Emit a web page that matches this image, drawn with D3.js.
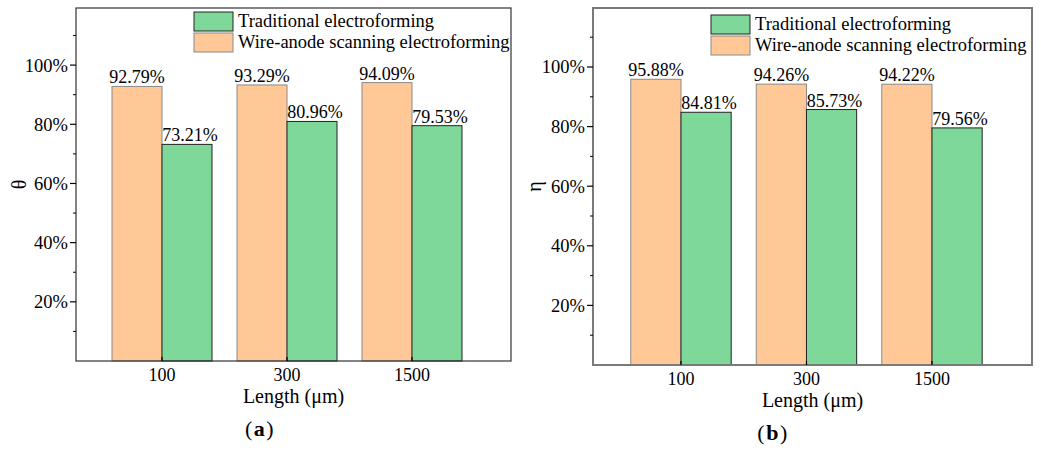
<!DOCTYPE html>
<html>
<head>
<meta charset="utf-8">
<script src="https://cdn.jsdelivr.net/npm/d3@7"></script>
<style>
  body { margin: 0; background: #fff; }
  svg { display: block; }
  text { font-family: "Liberation Serif", "Times New Roman", serif; fill: #000; }
</style>
</head>
<body>
<div id="chart"></div>
<script>
// Data
const categories = ["100", "300", "1500"];
const seriesNames = ["Traditional electroforming", "Wire-anode scanning electroforming"];
const thetaTraditional = [0.7321, 0.8096, 0.7953];
const thetaWire = [0.9279, 0.9329, 0.9409];
const etaTraditional = [0.8481, 0.8573, 0.7956];
const etaWire = [0.9588, 0.9426, 0.9422];
const yTicks = [0.2, 0.4, 0.6, 0.8, 1.0];
const yMinorTicks = [0.1, 0.3, 0.5, 0.7, 0.9, 1.1];

const orange = "#ffc896";
const green = "#7dd899";

const svg = d3.select("#chart")
    .append("svg")
    .attr("width", 1041)
    .attr("height", 450);

// one panel of the figure
function drawPanel(p) {
    const g = svg.append("g");

    const x = d3.scaleLinear().domain(p.xDomain).range([p.left, p.right]);
    const y = d3.scaleLinear().domain([0, p.yMax]).range([p.bottom, p.top]);
    const barW = x(1.4) - x(1);

    // bars: wire-anode (orange) on the left, traditional (green) on the right
    g.selectAll(".wire")
        .data(p.wire)
        .enter()
        .append("rect")
        .attr("x", (d, i) => x(i + 1) - barW)
        .attr("y", d => y(d))
        .attr("width", barW)
        .attr("height", d => y(0) - y(d))
        .attr("fill", orange)
        .attr("stroke", "#8a8a8a")
        .attr("stroke-width", 1);

    g.selectAll(".trad")
        .data(p.trad)
        .enter()
        .append("rect")
        .attr("x", (d, i) => x(i + 1))
        .attr("y", d => y(d))
        .attr("width", barW)
        .attr("height", d => y(0) - y(d))
        .attr("fill", green)
        .attr("stroke", "#222")
        .attr("stroke-width", 1);

    // value labels
    const fmt = d => (d * 100).toFixed(2) + "%";
    g.selectAll(".wlab")
        .data(p.wire)
        .enter()
        .append("text")
        .attr("x", (d, i) => x(i + 1) - barW / 2)
        .attr("y", d => y(d) - 3)
        .attr("text-anchor", "middle")
        .style("font-size", "18px")
        .text(fmt);

    g.selectAll(".tlab")
        .data(p.trad)
        .enter()
        .append("text")
        .attr("x", (d, i) => x(i + 1) + barW / 2 + 3)
        .attr("y", d => y(d) - 3)
        .attr("text-anchor", "middle")
        .style("font-size", "18px")
        .text(fmt);

    // frame
    g.append("rect")
        .attr("x", p.left)
        .attr("y", p.top)
        .attr("width", p.right - p.left)
        .attr("height", p.bottom - p.top)
        .attr("fill", "none")
        .attr("stroke", p.frameColor)
        .attr("stroke-width", p.frameWidth);

    // y ticks
    g.selectAll(".ymaj")
        .data(yTicks)
        .enter()
        .append("line")
        .attr("x1", p.left - 6)
        .attr("x2", p.left)
        .attr("y1", d => y(d))
        .attr("y2", d => y(d))
        .attr("stroke", "#000")
        .attr("stroke-width", 1.2);

    g.selectAll(".ymin")
        .data(yMinorTicks)
        .enter()
        .append("line")
        .attr("x1", p.left - 3)
        .attr("x2", p.left)
        .attr("y1", d => y(d))
        .attr("y2", d => y(d))
        .attr("stroke", "#000")
        .attr("stroke-width", 1);

    g.selectAll(".ylab")
        .data(yTicks)
        .enter()
        .append("text")
        .attr("x", p.left - 8)
        .attr("y", d => y(d))
        .attr("dy", "0.35em")
        .attr("text-anchor", "end")
        .style("font-size", "18.5px")
        .text(d => Math.round(d * 100) + "%");

    // x ticks and labels
    g.selectAll(".xtick")
        .data(categories)
        .enter()
        .append("line")
        .attr("x1", (d, i) => x(i + 1))
        .attr("x2", (d, i) => x(i + 1))
        .attr("y1", p.bottom)
        .attr("y2", p.bottom - 4)
        .attr("stroke", "#000")
        .attr("stroke-width", 1.2);

    g.selectAll(".xlab")
        .data(categories)
        .enter()
        .append("text")
        .attr("x", (d, i) => x(i + 1))
        .attr("y", p.bottom + 20)
        .attr("text-anchor", "middle")
        .style("font-size", "18px")
        .text(d => d);

    g.append("text")
        .attr("x", (p.left + p.right) / 2)
        .attr("y", p.bottom + 42)
        .attr("text-anchor", "middle")
        .style("font-size", "20px")
        .text("Length (\u03bcm)");

    g.append("text")
        .attr("transform", `translate(${p.yLabelX}, ${(p.top + p.bottom) / 2}) rotate(-90)`)
        .attr("text-anchor", "middle")
        .style("font-size", "20px")
        .text(p.yLabel);

    // panel caption
    const cap = g.append("text")
        .attr("x", p.captionX)
        .attr("y", p.captionY)
        .attr("text-anchor", "middle")
        .style("font-size", "22px")
        .style("letter-spacing", "1.5px");
    cap.append("tspan").text("(");
    cap.append("tspan").style("font-weight", "bold").text(p.caption);
    cap.append("tspan").text(")");

    // legend
    const legend = g.append("g").attr("transform", `translate(${p.legendX}, ${p.legendY})`);
    const legendColors = [green, orange];
    const legendStroke = ["#222", "#8a8a8a"];
    seriesNames.forEach((name, i) => {
        legend.append("rect")
            .attr("x", 0)
            .attr("y", i * 21)
            .attr("width", 39)
            .attr("height", 19)
            .attr("fill", legendColors[i])
            .attr("stroke", legendStroke[i])
            .attr("stroke-width", 1);
        legend.append("text")
            .attr("x", 44)
            .attr("y", i * 21 + 15)
            .style("font-size", "18.5px")
            .text(name);
    });
}

drawPanel({
    left: 76, right: 511, top: 8, bottom: 361,
    xDomain: [0.312, 3.792], yMax: 1.193,
    wire: thetaWire, trad: thetaTraditional,
    yLabel: "\u03b8", yLabelX: 26,
    caption: "a", captionX: 260, captionY: 436,
    legendX: 194, legendY: 12,
    frameColor: "#333", frameWidth: 1.2
});

drawPanel({
    left: 593, right: 1032, top: 8, bottom: 365,
    xDomain: [0.299, 3.797], yMax: 1.198,
    wire: etaWire, trad: etaTraditional,
    yLabel: "\u03b7", yLabelX: 541,
    caption: "b", captionX: 773, captionY: 440,
    legendX: 711, legendY: 15,
    frameColor: "#7a7a7a", frameWidth: 2
});
</script>
</body>
</html>
